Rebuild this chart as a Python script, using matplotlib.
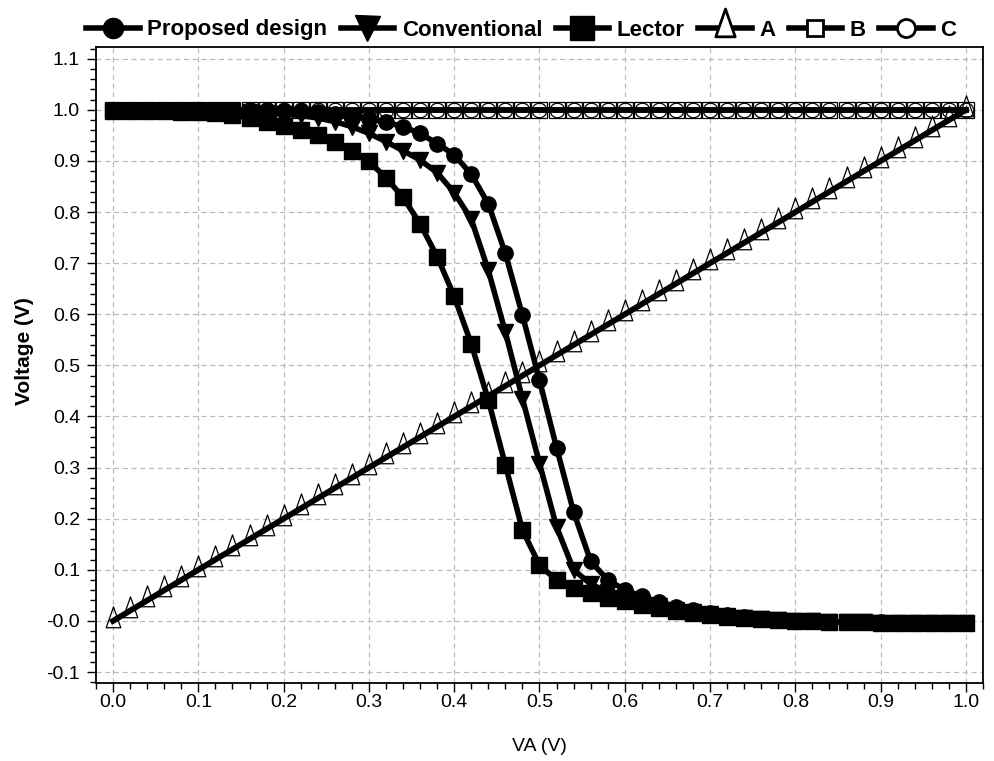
import numpy as np
import matplotlib
matplotlib.use("Agg")
import matplotlib.pyplot as plt
from matplotlib.lines import Line2D
from matplotlib.path import Path
from matplotlib.ticker import MultipleLocator, FixedLocator, FixedFormatter

plt.rcParams['font.family'] = ['Liberation Sans', 'DejaVu Sans']

# ---- data ----
va = [round(0.02 * i, 2) for i in range(51)]

proposed = [1.0, 1.0, 1.0, 1.0, 1.0, 1.0, 1.0, 1.0, 1.0,
            0.999, 0.998, 0.997, 0.995, 0.992, 0.987, 0.982, 0.976, 0.967, 0.954,
            0.934, 0.912, 0.874, 0.816, 0.719, 0.598, 0.471, 0.339, 0.213, 0.117,
            0.080, 0.061, 0.048, 0.037, 0.028, 0.021, 0.016, 0.011, 0.007, 0.004,
            0.002, 0.000, -0.001, -0.002, -0.002, -0.003, -0.003, -0.004, -0.004, -0.004,
            -0.005, -0.005]

conventional = [0.998, 0.998, 0.998, 0.998, 0.998, 0.998, 0.998,
                0.997, 0.996, 0.994, 0.992, 0.989, 0.984, 0.977, 0.967, 0.954,
                0.938, 0.920, 0.902, 0.877, 0.838, 0.786, 0.686, 0.565, 0.435, 0.308,
                0.184, 0.100, 0.072, 0.056, 0.045, 0.036, 0.029, 0.022, 0.017, 0.013,
                0.009, 0.006, 0.003, 0.001, 0.000, -0.001, -0.002, -0.003, -0.003, -0.004,
                -0.004, -0.004, -0.005, -0.005, -0.005]

lector = [0.997, 0.997, 0.997, 0.997, 0.996, 0.996,
          0.994, 0.990, 0.984, 0.977, 0.969, 0.960, 0.950, 0.937, 0.920, 0.899,
          0.867, 0.829, 0.777, 0.713, 0.635, 0.542, 0.432, 0.305, 0.178, 0.109,
          0.080, 0.064, 0.054, 0.044, 0.038, 0.031, 0.025, 0.020, 0.015, 0.011,
          0.008, 0.005, 0.003, 0.001, 0.000, -0.001, -0.002, -0.003, -0.003, -0.004,
          -0.004, -0.004, -0.005, -0.005, -0.005]

sig_a = [0.00, 0.02, 0.04, 0.06, 0.08, 0.10, 0.12, 0.14, 0.16, 0.18,
         0.20, 0.22, 0.24, 0.26, 0.28, 0.30, 0.32, 0.34, 0.36, 0.38,
         0.40, 0.42, 0.44, 0.46, 0.48, 0.50, 0.52, 0.54, 0.56, 0.58,
         0.60, 0.62, 0.64, 0.66, 0.68, 0.70, 0.72, 0.74, 0.76, 0.78,
         0.80, 0.82, 0.84, 0.86, 0.88, 0.90, 0.92, 0.94, 0.96, 0.98, 1.00]
sig_b = [1.0] * 51
sig_c = [1.0] * 51

x_ticks = [0.0, 0.1, 0.2, 0.3, 0.4, 0.5, 0.6, 0.7, 0.8, 0.9, 1.0]
x_ticklabels = ["0.0", "0.1", "0.2", "0.3", "0.4", "0.5", "0.6", "0.7", "0.8", "0.9", "1.0"]
y_ticks = [-0.1, 0.0, 0.1, 0.2, 0.3, 0.4, 0.5, 0.6, 0.7, 0.8, 0.9, 1.0, 1.1]
y_ticklabels = ["-0.1", "-0.0", "0.1", "0.2", "0.3", "0.4", "0.5", "0.6", "0.7", "0.8", "0.9", "1.0", "1.1"]

labels = ["Proposed design", "Conventional", "Lector", "A", "B", "C"]

# ---- figure ----
fig = plt.figure(figsize=(9.95, 7.61), dpi=100)
ax = fig.add_axes([96 / 995, 1 - 683 / 761, (983 - 96) / 995, (683 - 47) / 761])

tall_tri = Path([(-0.35, -0.3), (0.35, -0.3), (0.0, 0.7), (-0.35, -0.3)],
                [Path.MOVETO, Path.LINETO, Path.LINETO, Path.CLOSEPOLY])

lw = 4.0
ax.plot(va, sig_a, color='black', lw=4.2, marker=tall_tri, ms=21,
        mfc='none', mec='black', mew=0.9, zorder=3)
ax.plot(va, sig_b, color='black', lw=lw, marker='s', ms=11.5,
        mfc='none', mec='black', mew=0.9, zorder=3)
ax.plot(va, sig_c, color='black', lw=lw, marker='o', ms=10.5,
        mfc='none', mec='black', mew=0.9, zorder=3)
ax.plot(va, lector, color='black', lw=lw, marker='s', ms=11, zorder=4)
ax.plot(va, conventional, color='black', lw=lw, marker='v', ms=12, zorder=5)
ax.plot(va, proposed, color='black', lw=lw, marker='o', ms=11, zorder=6)

ax.set_xlim(-0.02, 1.02)
ax.set_ylim(-0.1215, 1.123)

ax.xaxis.set_major_locator(FixedLocator(x_ticks))
ax.xaxis.set_major_formatter(FixedFormatter(x_ticklabels))
ax.yaxis.set_major_locator(FixedLocator(y_ticks))
ax.yaxis.set_major_formatter(FixedFormatter(y_ticklabels))
ax.xaxis.set_minor_locator(MultipleLocator(0.02))
ax.yaxis.set_minor_locator(MultipleLocator(0.02))

ax.tick_params(axis='both', which='major', direction='out', length=6.5, width=1,
               labelsize=14, colors='black')
ax.tick_params(axis='both', which='minor', direction='out', length=4.3, width=1)
ax.tick_params(axis='x', which='major', pad=1.5)
ax.tick_params(axis='y', which='major', pad=5)

ax.grid(True, which='major', linestyle=(0, (4, 3)), color='#bbbbbb', lw=0.9, zorder=0)
ax.set_axisbelow(True)
for s in ax.spines.values():
    s.set_linewidth(1.3)
    s.set_color('black')

ax.set_xlabel("VA (V)", fontsize=14)
ax.xaxis.set_label_coords(0.5, (683 - 738) / 636)
ax.set_ylabel("Voltage (V)", fontsize=15, fontweight='bold')
ax.yaxis.set_label_coords((25 - 96) / 887, (683 - 351) / 636)
ax.yaxis.label.set_verticalalignment('center')

# legend
handles = [
    Line2D([], [], color='black', lw=4, marker='o', ms=14.5),
    Line2D([], [], color='black', lw=4, marker='v', ms=18),
    Line2D([], [], color='black', lw=4, marker='s', ms=17),
    Line2D([], [], color='black', lw=4, marker=tall_tri, ms=28, mfc='white', mec='black', mew=2),
    Line2D([], [], color='black', lw=4, marker='s', ms=12, mfc='white', mec='black', mew=2),
    Line2D([], [], color='black', lw=4, marker='o', ms=13, mfc='white', mec='black', mew=2),
]
fig.legend(handles, labels, loc='center', bbox_to_anchor=(0.524, 1 - 30 / 761),
           ncol=6, frameon=False, handlelength=2.4, handletextpad=0.35,
           columnspacing=0.6, prop={'weight': 'bold', 'size': 16})

fig.savefig("out.png", dpi=100)
